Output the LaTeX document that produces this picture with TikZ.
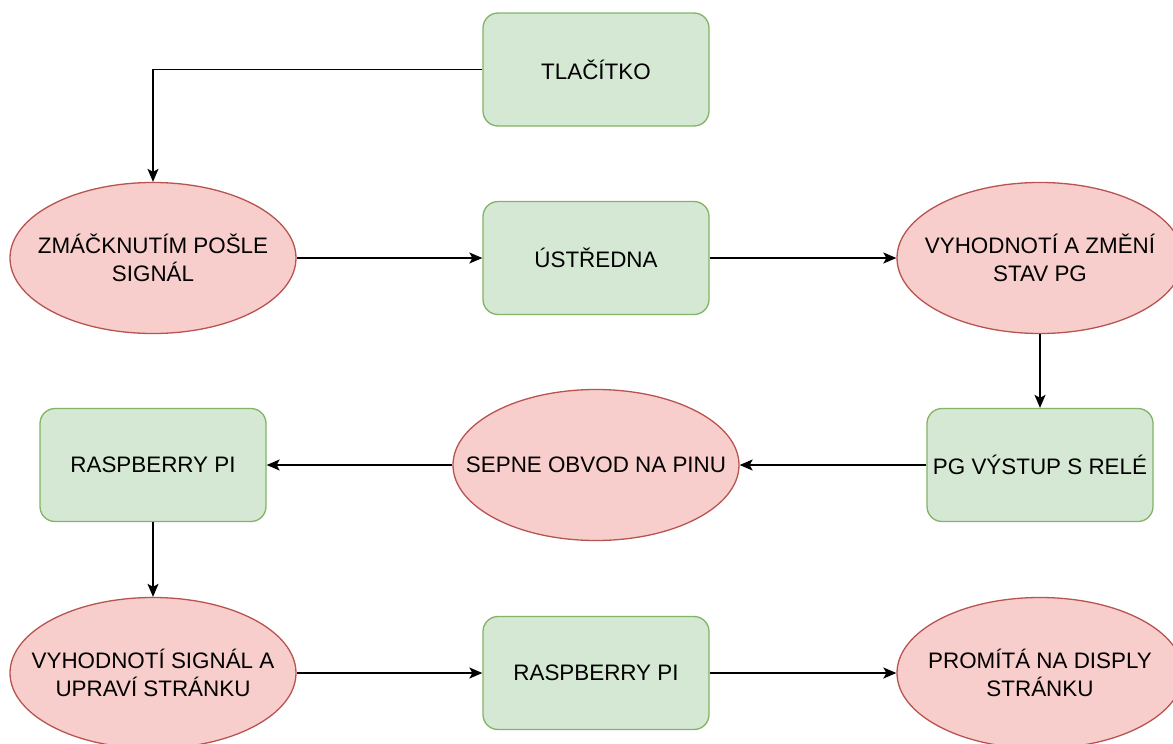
\documentclass[tikz,border=0pt]{standalone}
\usepackage{fontspec}
\setmainfont{Liberation Sans}
\usetikzlibrary{shapes.geometric,arrows.meta}

\definecolor{boxfill}{HTML}{D5E8D4}
\definecolor{boxline}{HTML}{82B366}
\definecolor{ovalfill}{HTML}{F8CECC}
\definecolor{ovalline}{HTML}{B85450}

\begin{document}
\begin{tikzpicture}[x=1pt,y=-1pt,
  font=\fontsize{22.4}{28}\selectfont,
  box/.style={draw=boxline,fill=boxfill,line width=1.3pt,rounded corners=15pt,
    minimum width=226pt,minimum height=113pt,inner sep=0pt,align=center},
  oval/.style={ellipse,draw=ovalline,fill=ovalfill,line width=1.3pt,
    minimum width=286pt,minimum height=151pt,inner xsep=-60pt,inner ysep=0pt,
    align=center},
  flow/.style={line width=1.5pt,-{Stealth[length=13pt,width=11pt,inset=3pt]}}]

\useasboundingbox (0,0) rectangle (1173,744);
\clip (0,0) rectangle (1173,744);

% boxes
\node[box] (tlacitko) at (596,69.5) {TLAČÍTKO};
\node[box] (ustredna) at (596,258) {ÚSTŘEDNA};
\node[box] (pgrele) at (1040,465) {PG VÝSTUP S RELÉ};
\node[box] (rpione) at (153,465) {RASPBERRY PI};
\node[box] (rpitwo) at (596,673) {RASPBERRY PI};

% ovals
\node[oval] (posle) at (153,258) {ZMÁČKNUTÍM POŠLE\\SIGNÁL};
\node[oval] (zmeni) at (1040,258) {VYHODNOTÍ A ZMĚNÍ\\STAV PG};
\node[oval] (sepne) at (596,465) {SEPNE OBVOD NA PINU};
\node[oval] (upravi) at (153,673) {VYHODNOTÍ SIGNÁL A\\UPRAVÍ STRÁNKU};
\node[oval] (promita) at (1040,673) {PROMÍTÁ NA DISPLY\\STRÁNKU};

% arrows
\draw[flow] (tlacitko.west) -| (posle.north);
\draw[flow] (posle.east) -- (ustredna.west);
\draw[flow] (ustredna.east) -- (zmeni.west);
\draw[flow] (zmeni.south) -- (pgrele.north);
\draw[flow] (pgrele.west) -- (sepne.east);
\draw[flow] (sepne.west) -- (rpione.east);
\draw[flow] (rpione.south) -- (upravi.north);
\draw[flow] (upravi.east) -- (rpitwo.west);
\draw[flow] (rpitwo.east) -- (promita.west);

\end{tikzpicture}
\end{document}
